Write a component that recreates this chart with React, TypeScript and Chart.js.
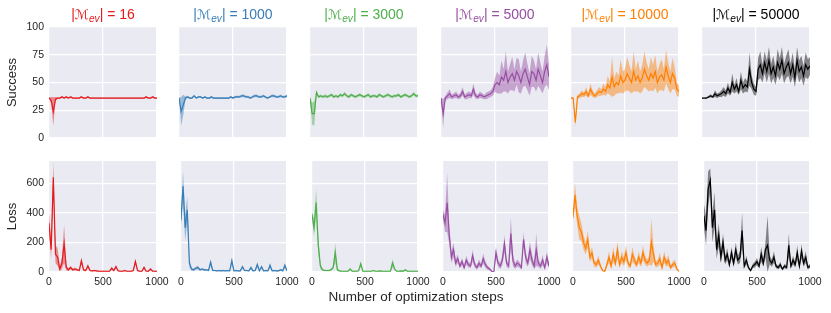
import React, { useEffect, useRef } from "react";
import { Chart, registerables } from "chart.js";

Chart.register(...registerables);

// ---------------- data ----------------
const STEPS = [
  0, 20, 40, 60, 80, 100, 120, 140, 160, 180,
  200, 220, 240, 260, 280, 300, 320, 340, 360, 380,
  400, 420, 440, 460, 480, 500, 520, 540, 560, 580,
  600, 620, 640, 660, 680, 700, 720, 740, 760, 780,
  800, 820, 840, 860, 880, 900, 920, 940, 960, 980,
  1000,
];

const X_TICKS = [0, 500, 1000];
const SUCCESS_TICKS = [0, 25, 50, 75, 100];
const LOSS_TICKS = [0, 200, 400, 600];
const SUCCESS_MAX = 100;
const LOSS_MAX = 750;

const SIZES = ["16", "1000", "3000", "5000", "10000", "50000"];
const COLORS = ["#E41A1C", "#377EB8", "#4DAF4A", "#984EA3", "#FF7F00", "#000000"];

// Success (mean and band half-width)
const S16 = [
  36, 34, 24, 35, 36, 36, 37, 36, 37, 36,
  37, 36, 36, 36, 36, 37, 36, 36, 37, 36,
  36, 36, 36, 36, 36, 36, 36, 36, 36, 36,
  36, 36, 36, 36, 36, 36, 36, 36, 36, 36,
  36, 36, 36, 36, 36, 37, 36, 36, 37, 36,
  36,
];
const S16_SD = [
  0.5, 3, 13, 2, 0.8, 0.5, 1, 0.5, 1, 0.5,
  1, 0.5, 0.5, 0.5, 0.5, 1, 0.5, 0.5, 1, 0.5,
  0.5, 0.5, 0.5, 0.5, 0.5, 0.5, 0.5, 0.5, 0.5, 0.5,
  0.5, 0.5, 0.5, 0.5, 0.5, 0.5, 0.5, 0.5, 0.5, 0.5,
  0.5, 0.5, 0.5, 0.5, 0.5, 1, 0.5, 0.5, 1, 0.5,
  0.5,
];
const S1000 = [
  36, 24, 30, 36, 37, 36, 36, 38, 36, 37,
  37, 36, 37, 36, 36, 37, 36, 36, 36, 36,
  36, 36, 36, 36, 37, 36, 37, 37, 37, 38,
  38, 37, 37, 36, 37, 38, 38, 37, 37, 38,
  37, 36, 37, 38, 38, 37, 37, 38, 37, 37,
  38,
];
const S1000_SD = [
  0.5, 13, 9, 1.5, 1, 0.8, 0.8, 1, 0.8, 0.8,
  0.8, 0.8, 0.8, 0.8, 0.8, 1, 0.8, 0.8, 0.8, 0.8,
  0.8, 0.8, 0.8, 0.8, 1, 0.8, 1, 1, 1, 1.2,
  1.2, 1, 1, 0.8, 1, 1.2, 1.2, 1, 1, 1.2,
  1, 0.8, 1, 1.2, 1.2, 1, 1, 1.2, 1, 1,
  1.2,
];
const S3000 = [
  36, 22, 22, 41, 37, 38, 37, 38, 37, 38,
  39, 37, 38, 37, 39, 38, 40, 38, 37, 39,
  38, 37, 38, 39, 38, 37, 38, 39, 37, 38,
  38, 37, 39, 38, 37, 38, 39, 38, 37, 38,
  38, 39, 37, 38, 39, 38, 37, 38, 40, 38,
  38,
];
const S3000_SD = [
  0.5, 10, 11, 2, 1.2, 1.2, 1.2, 1.5, 1.2, 1.2,
  1.3, 1.3, 1.3, 1.3, 1.3, 1.3, 1.5, 1.3, 1.3, 1.3,
  1.3, 1.3, 1.3, 1.3, 1.3, 1.3, 1.3, 1.3, 1.3, 1.3,
  1.3, 1.3, 1.3, 1.3, 1.3, 1.3, 1.3, 1.3, 1.3, 1.3,
  1.3, 1.3, 1.3, 1.3, 1.3, 1.3, 1.3, 1.3, 1.5, 1.3,
  1.3,
];
const S5000 = [
  36, 22, 36, 38, 40, 37, 38, 39, 37, 38,
  42, 37, 38, 39, 38, 44, 38, 37, 39, 38,
  37, 38, 39, 40, 42, 48, 50, 48, 55, 52,
  60, 50, 55, 58, 52, 60, 56, 50, 58, 62,
  55, 48, 60, 58, 52, 62, 56, 50, 60, 66,
  55,
];
const S5000_SD = [
  0.5, 13, 2, 3, 4, 2, 2.5, 3, 2, 2.5,
  4, 2, 3, 3, 2.5, 5, 2.5, 2, 3, 2.5,
  2, 3, 3, 3, 4, 6, 10, 8, 15, 10,
  18, 10, 12, 15, 10, 12, 15, 10, 12, 15,
  12, 10, 14, 12, 10, 15, 12, 10, 14, 18,
  12,
];
const S10000 = [
  36, 36, 14, 37, 38, 40, 39, 42, 38, 44,
  40, 38, 40, 42, 41, 44, 42, 48, 45, 55,
  46, 50, 48, 56, 50, 52, 58, 54, 50, 60,
  52, 56, 50, 54, 62, 56, 52, 58, 54, 60,
  50, 55, 57, 52, 64, 56, 50, 58, 54, 44,
  42,
];
const S10000_SD = [
  0.5, 1, 4, 2, 2, 3, 2, 4, 2, 5,
  3, 2, 3, 4, 3, 5, 4, 8, 6, 18,
  8, 10, 8, 15, 10, 10, 15, 12, 10, 18,
  10, 14, 10, 12, 16, 12, 10, 15, 12, 15,
  10, 12, 14, 10, 15, 12, 10, 14, 10, 6,
  5,
];
const S50000 = [
  36, 36, 36, 37, 38, 37, 40, 38, 39, 40,
  42, 40, 45, 41, 50, 44, 48, 42, 52, 45,
  48, 46, 62, 50, 44, 42, 62, 66, 58, 68,
  60, 70, 58, 64, 56, 68, 62, 70, 58, 64,
  68, 58, 66, 54, 70, 60, 64, 56, 66, 62,
  65,
];
const S50000_SD = [
  0.3, 0.3, 0.5, 1, 1.5, 1, 3, 2, 2, 3,
  4, 3, 5, 3, 8, 4, 6, 3, 8, 5,
  6, 5, 15, 6, 5, 4, 10, 12, 8, 10,
  10, 12, 9, 10, 8, 12, 10, 12, 9, 10,
  12, 9, 11, 8, 12, 10, 10, 9, 11, 9,
  8,
];

// Loss (mean and band half-width)
const L16 = [
  330, 150, 640, 120, 100, 20, 60, 190, 30, 15,
  30, 15, 20, 15, 10, 75, 15, 10, 40, 10,
  8, 10, 8, 5, 5, 5, 5, 5, 5, 25,
  10, 35, 8, 5, 5, 10, 5, 5, 5, 10,
  70, 10, 5, 5, 30, 5, 5, 20, 5, 5,
  5,
];
const L16_SD = [
  60, 60, 100, 60, 60, 15, 40, 130, 20, 8,
  12, 8, 10, 8, 5, 25, 8, 5, 15, 5,
  4, 5, 4, 3, 3, 3, 3, 3, 3, 10,
  5, 12, 4, 3, 3, 5, 3, 3, 3, 5,
  20, 5, 3, 3, 12, 3, 3, 8, 3, 3,
  3,
];
const L1000 = [
  350, 580, 300, 420, 60, 20, 15, 25, 30, 15,
  20, 15, 15, 10, 65, 10, 10, 8, 10, 8,
  10, 8, 10, 8, 75, 8, 10, 8, 8, 35,
  10, 10, 8, 30, 8, 10, 50, 8, 35, 8,
  10, 8, 45, 8, 10, 8, 8, 15, 8, 45,
  8,
];
const L1000_SD = [
  40, 100, 90, 90, 30, 10, 8, 10, 12, 6,
  8, 6, 6, 5, 25, 5, 5, 4, 5, 4,
  5, 4, 5, 4, 25, 4, 5, 4, 4, 12,
  5, 5, 4, 12, 4, 5, 18, 4, 12, 4,
  5, 4, 18, 4, 5, 4, 4, 6, 4, 18,
  4,
];
const L3000 = [
  390, 300, 470, 180, 40, 15, 10, 10, 10, 15,
  30, 130, 15, 8, 5, 5, 5, 5, 20, 5,
  5, 5, 8, 55, 5, 5, 5, 5, 5, 10,
  5, 5, 8, 5, 5, 5, 5, 5, 60, 20,
  5, 5, 8, 5, 15, 5, 5, 5, 5, 5,
  5,
];
const L3000_SD = [
  20, 60, 90, 60, 20, 8, 5, 5, 5, 8,
  12, 70, 8, 4, 3, 3, 3, 3, 8, 3,
  3, 3, 4, 20, 3, 3, 3, 3, 3, 5,
  3, 3, 4, 3, 3, 3, 3, 3, 30, 8,
  3, 3, 4, 3, 6, 3, 3, 3, 3, 3,
  3,
];
const L5000 = [
  390, 330, 470, 250, 100, 150, 60, 90, 40, 70,
  30, 80, 50, 40, 110, 50, 30, 60, 40, 90,
  50, 30, 20, 5, 0, 130, 60, 40, 80, 190,
  60, 40, 260, 80, 40, 60, 50, 30, 220, 100,
  60, 150, 80, 40, 150, 60, 40, 80, 30, 100,
  40,
];
const L5000_SD = [
  30, 60, 200, 60, 40, 50, 25, 30, 15, 25,
  15, 30, 20, 15, 40, 20, 15, 25, 15, 35,
  20, 15, 10, 3, 1, 40, 25, 20, 35, 60,
  25, 20, 110, 40, 20, 25, 20, 15, 50, 40,
  25, 60, 35, 20, 110, 25, 20, 35, 15, 40,
  20,
];
const L10000 = [
  370, 520, 380, 300, 270, 200, 160, 220, 100, 130,
  60, 50, 80, 40, 10, 5, 50, 100, 40, 120,
  60, 150, 50, 100, 70, 130, 60, 40, 120, 80,
  50, 100, 60, 130, 80, 60, 80, 200, 120, 50,
  60, 90, 30, 100, 60, 80, 30, 50, 60, 20,
  5,
];
const L10000_SD = [
  30, 80, 60, 80, 60, 50, 40, 60, 30, 40,
  25, 20, 30, 15, 5, 3, 20, 40, 15, 50,
  25, 60, 20, 40, 30, 50, 25, 15, 50, 30,
  20, 40, 25, 50, 30, 25, 30, 160, 50, 20,
  25, 40, 15, 40, 25, 35, 15, 20, 25, 10,
  3,
];
const L50000 = [
  380, 280, 560, 620, 300, 420, 150, 250, 100, 200,
  80, 120, 50, 130, 60, 150, 80, 100, 280, 40,
  80, 30, 10, 40, 50, 70, 40, 120, 60, 150,
  180, 80, 60, 100, 40, 30, 50, 20, 40, 30,
  180, 40, 80, 50, 130, 40, 140, 60, 100, 30,
  40,
];
const L50000_SD = [
  80, 100, 120, 80, 100, 120, 60, 80, 40, 60,
  30, 40, 20, 40, 25, 50, 30, 40, 120, 15,
  30, 12, 5, 15, 20, 25, 15, 50, 25, 50,
  200, 30, 25, 40, 15, 12, 20, 8, 15, 12,
  80, 15, 30, 20, 50, 15, 50, 25, 40, 12,
  15,
];

const SUCCESS_MEANS = [S16, S1000, S3000, S5000, S10000, S50000];
const SUCCESS_SDS = [S16_SD, S1000_SD, S3000_SD, S5000_SD, S10000_SD, S50000_SD];
const LOSS_MEANS = [L16, L1000, L3000, L5000, L10000, L50000];
const LOSS_SDS = [L16_SD, L1000_SD, L3000_SD, L5000_SD, L10000_SD, L50000_SD];

// ---------------- layout ----------------
const PLOT_LEFTS = [49, 179, 310, 441, 571, 702];
const PLOT_W = 108;
const PLOT_H = 111;
const ROW_TOPS = [27, 161];
const FONT = "'Liberation Sans', Arial, 'DejaVu Sans', sans-serif";
const TEXT = "#262626";

function withAlpha(hex: string, a: number) {
  const r = parseInt(hex.slice(1, 3), 16);
  const g = parseInt(hex.slice(3, 5), 16);
  const b = parseInt(hex.slice(5, 7), 16);
  return `rgba(${r},${g},${b},${a})`;
}

const bgPlugin = {
  id: "plotBg",
  beforeDraw(chart: any) {
    const { ctx, chartArea: a } = chart;
    ctx.save();
    ctx.fillStyle = "#EAEAF2";
    ctx.fillRect(a.left, a.top, a.right - a.left, a.bottom - a.top);
    ctx.restore();
  },
};

type PanelProps = {
  col: number;
  row: number;
  color: string;
  mean: number[];
  sd: number[];
};

function Panel({ col, row, color, mean, sd }: PanelProps) {
  const ref = useRef<HTMLCanvasElement>(null);
  const plotLeft = PLOT_LEFTS[col];
  const plotTop = ROW_TOPS[row];
  const padL = col === 0 ? plotLeft : 5;
  const padR = 16;
  const padT = 14;
  const padB = row === 1 ? 22 : 14;
  const cw = padL + PLOT_W + padR;
  const ch = padT + PLOT_H + padB;
  const isSuccess = row === 0;
  const yMax = isSuccess ? SUCCESS_MAX : LOSS_MAX;
  const yTicks = isSuccess ? SUCCESS_TICKS : LOSS_TICKS;
  const yTitle = isSuccess ? "Success" : "Loss";

  useEffect(() => {
    const upper = mean.map((m, i) => m + sd[i]);
    const lower = mean.map((m, i) => Math.max(0, m - sd[i]));
    const pts = (arr: number[]) => STEPS.map((x, i) => ({ x, y: arr[i] }));
    const gridOpts = { color: "#ffffff", lineWidth: 1.2, drawTicks: false };
    const chart = new Chart(ref.current as HTMLCanvasElement, {
      type: "line",
      data: {
        datasets: [
          {
            data: pts(upper),
            borderWidth: 0,
            pointRadius: 0,
            backgroundColor: withAlpha(color, 0.45),
            fill: "+1",
            tension: 0,
          },
          {
            data: pts(lower),
            borderWidth: 0,
            pointRadius: 0,
            fill: false,
            tension: 0,
          },
          {
            data: pts(mean),
            borderColor: color,
            borderWidth: 1.2,
            pointRadius: 0,
            fill: false,
            tension: 0,
          },
        ],
      },
      options: {
        responsive: false,
        animation: false,
        events: [],
        layout: { padding: { left: 0, right: padR, top: padT, bottom: 0 } },
        plugins: {
          legend: { display: false },
          tooltip: { enabled: false },
          title: { display: false },
        },
        scales: {
          x: {
            type: "linear",
            min: 0,
            max: 1000,
            afterBuildTicks: (s: any) => {
              s.ticks = X_TICKS.map((v) => ({ value: v }));
            },
            afterFit: (s: any) => {
              s.height = padB;
            },
            grid: gridOpts,
            border: { display: false },
            ticks: {
              display: row === 1,
              padding: 4,
              color: TEXT,
              font: { size: 10.5, family: FONT },
              maxRotation: 0,
              autoSkip: false,
              callback: (v: any) => String(v),
            },
          },
          y: {
            type: "linear",
            min: 0,
            max: yMax,
            afterBuildTicks: (s: any) => {
              s.ticks = yTicks.map((v) => ({ value: v }));
            },
            afterFit: (s: any) => {
              s.width = padL;
            },
            grid: gridOpts,
            border: { display: false },
            ticks: {
              display: col === 0,
              padding: 5,
              color: TEXT,
              font: { size: 10.5, family: FONT },
              autoSkip: false,
              callback: (v: any) => String(v),
            },
            title: {
              display: col === 0,
              text: yTitle,
              color: TEXT,
              font: { size: 13, family: FONT },
              padding: { top: 5, bottom: 0 },
            },
          },
        },
      } as any,
      plugins: [bgPlugin],
    });
    return () => chart.destroy();
  }, []);

  return (
    <canvas
      ref={ref}
      width={cw}
      height={ch}
      style={{
        position: "absolute",
        left: plotLeft - padL,
        top: plotTop - padT,
        width: cw,
        height: ch,
      }}
    />
  );
}

export default function App() {
  return (
    <div
      style={{
        position: "absolute",
        left: 0,
        top: 0,
        width: 831,
        height: 313,
        background: "#ffffff",
        fontFamily: FONT,
        overflow: "hidden",
      }}
    >
      {SIZES.map((_, c) => (
        <Panel key={"s" + c} col={c} row={0} color={COLORS[c]} mean={SUCCESS_MEANS[c]} sd={SUCCESS_SDS[c]} />
      ))}
      {SIZES.map((_, c) => (
        <Panel key={"l" + c} col={c} row={1} color={COLORS[c]} mean={LOSS_MEANS[c]} sd={LOSS_SDS[c]} />
      ))}
      {SIZES.map((size, c) => (
        <div
          key={"t" + c}
          style={{
            position: "absolute",
            left: PLOT_LEFTS[c] + PLOT_W / 2 - 70,
            width: 140,
            top: 6,
            textAlign: "center",
            fontSize: 14,
            lineHeight: "16px",
            color: COLORS[c],
            whiteSpace: "nowrap",
          }}
        >
          |<span style={{ fontStyle: "italic", fontFamily: "'DejaVu Sans', sans-serif", fontSize: "0.95em" }}>ℳ</span>
          <sub style={{ fontStyle: "italic", fontSize: "0.72em", verticalAlign: "-0.25em" }}>ev</sub>| = {size}
        </div>
      ))}
      <div
        style={{
          position: "absolute",
          left: 416 - 150,
          width: 300,
          top: 289,
          textAlign: "center",
          fontSize: 13.5,
          lineHeight: "16px",
          color: TEXT,
          whiteSpace: "nowrap",
        }}
      >
        Number of optimization steps
      </div>
    </div>
  );
}
